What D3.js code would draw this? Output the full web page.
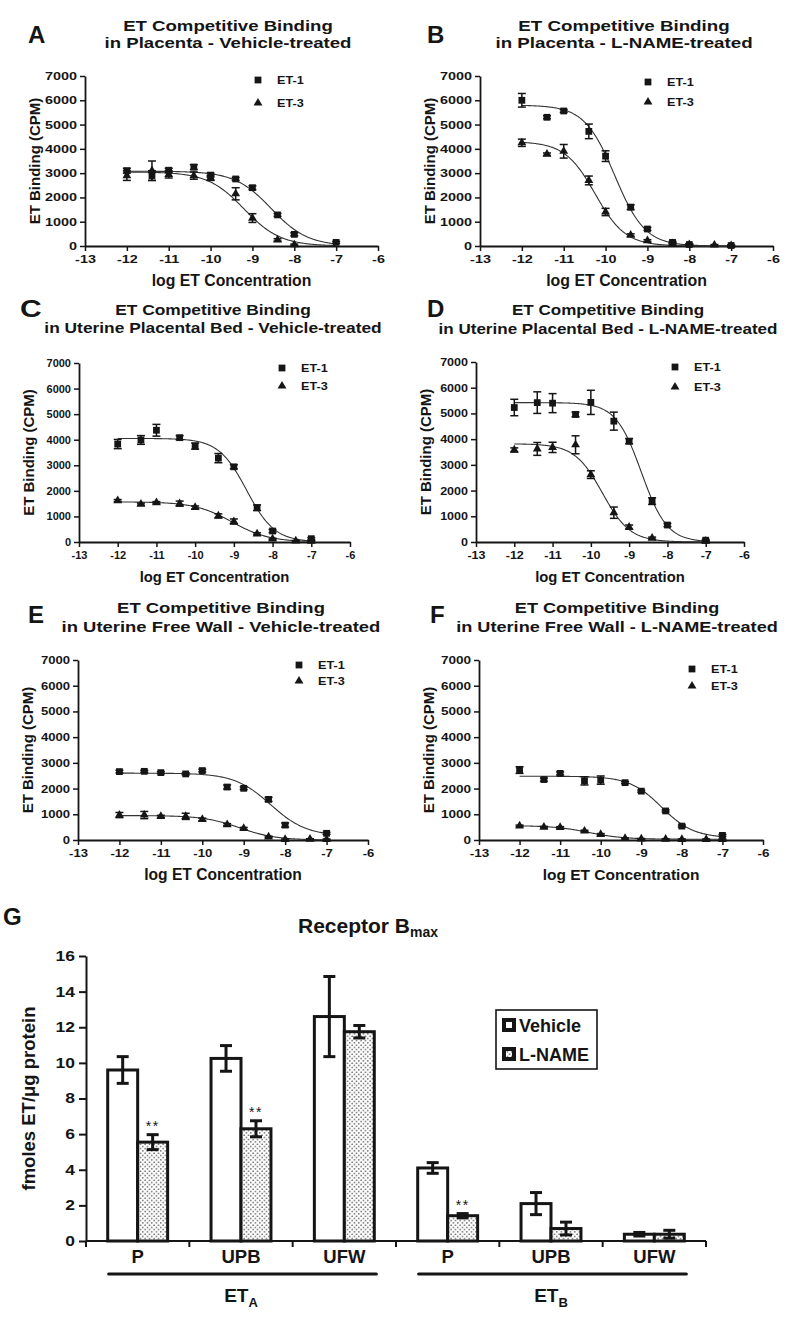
<!DOCTYPE html>
<html><head><meta charset="utf-8">
<script src="https://cdn.jsdelivr.net/npm/d3@7"></script>
<style>
body{margin:0;background:#fff;}
svg text{font-family:"Liberation Sans",Arial,Helvetica,sans-serif;font-weight:bold;fill:#151515;}
</style></head><body>
<svg id="c" width="800" height="1323"></svg>
<script>
// ---------- DATA ----------
const logConc = [-12, -11.4, -11, -10.4, -10, -9.4, -9, -8.4, -8, -7.4, -7];
const xTicks = [-13, -12, -11, -10, -9, -8, -7, -6];
const yTicks = [0, 1000, 2000, 3000, 4000, 5000, 6000, 7000];
const seriesNames = ["ET-1", "ET-3"];

// Panel A: Placenta, vehicle
const A_et1 = [3100, 2900, 3120, 3250, 2920, 2760, 2400, 1280, 480, null, 150];
const A_et1Err = [100, 200, 80, 100, 80, 60, 80, 60, 60, null, 40];
const A_et3 = [2900, 3100, 2950, 2900, 2800, 2150, 1150, 250, 50, null, null];
const A_et3Err = [200, 400, 150, 150, 100, 250, 180, 50, 30, null, null];
const A_fit1 = [3080, 0, -8.55, 1.0];   // top, bottom, logIC50, hill
const A_fit3 = [3050, 0, -9.2, 1.0];

// Panel B: Placenta, L-NAME
const B_et1 = [6000, 5300, 5560, 4720, 3700, 1600, 700, 150, 60, null, 20];
const B_et1Err = [280, 60, 60, 300, 220, 100, 60, 40, 30, null, 20];
const B_et3 = [4250, 3780, 3900, 2700, 1400, 450, 220, 100, 60, 40, 20];
const B_et3Err = [150, 50, 280, 180, 150, 50, 40, 30, 20, 20, 20];
const B_fit1 = [5800, 0, -9.78, 1.2];
const B_fit3 = [4300, 0, -10.25, 1.2];

// Panel C: Uterine placental bed, vehicle
const C_et1 = [3830, 3990, 4370, 4080, 3750, 3280, 2940, 1340, 430, null, 130];
const C_et1Err = [180, 170, 230, 80, 120, 180, 80, 110, 60, null, 40];
const C_et3 = [1620, 1480, 1540, 1500, 1350, 1020, 800, 320, 120, 40, 30];
const C_et3Err = [40, 40, 40, 100, 60, 80, 100, 40, 30, 20, 20];
const C_fit1 = [4050, 0, -8.67, 1.2];
const C_fit3 = [1570, 0, -9.05, 0.9];

// Panel D: Uterine placental bed, L-NAME
const D_et1 = [5230, 5420, 5400, 4960, 5430, 4700, 3920, 1590, 660, null, 70];
const D_et1Err = [320, 420, 370, 90, 470, 350, 100, 130, 60, null, 30];
const D_et3 = [3580, 3620, 3680, 3780, 2620, 1140, 580, 150, null, null, 30];
const D_et3Err = [80, 250, 200, 350, 150, 220, 80, 40, null, null, 20];
const D_fit1 = [5420, 0, -8.68, 1.3];
const D_fit3 = [3820, 0, -9.7, 1.2];

// Panel E: Uterine free wall, vehicle
const E_et1 = [2660, 2670, 2620, 2570, 2700, 2060, 2010, 1580, 580, null, 260];
const E_et1Err = [50, 40, 40, 40, 50, 80, 50, 80, 80, null, 40];
const E_et3 = [970, 970, 920, 920, 800, 600, 450, 120, 20, 30, 20];
const E_et3Err = [100, 140, 40, 120, 50, 40, 40, 30, 20, 20, 20];
const E_fit1 = [2600, 150, -8.35, 1.0];
const E_fit3 = [950, 0, -9.1, 1.0];

// Panel F: Uterine free wall, L-NAME
const F_et1 = [2720, 2350, 2590, 2300, 2330, 2230, 1900, 1130, 540, null, 180];
const F_et1Err = [130, 60, 60, 160, 160, 40, 40, 40, 40, null, 40];
const F_et3 = [550, 500, 490, 350, 220, 60, 40, 30, 20, 20, 20];
const F_et3Err = [30, 30, 30, 30, 30, 20, 20, 20, 20, 20, 20];
const F_fit1 = [2480, 80, -8.5, 1.1];
const F_fit3 = [560, 30, -10.3, 1.0];

// Panel G: Receptor Bmax
const gCategories = ["P", "UPB", "UFW", "P", "UPB", "UFW"];
const gReceptor = ["ETA", "ETA", "ETA", "ETB", "ETB", "ETB"];
const gTreatments = ["Vehicle", "L-NAME"];
const gVehicle = [9.6, 10.25, 12.6, 4.1, 2.1, 0.38];
const gVehicleErr = [0.75, 0.72, 2.25, 0.3, 0.62, 0.1];
const gLname = [5.55, 6.3, 11.75, 1.42, 0.7, 0.38];
const gLnameErr = [0.42, 0.45, 0.35, 0.12, 0.36, 0.22];
const gSignif = ["**", "**", "", "**", "", ""];
const gYTicks = [0, 2, 4, 6, 8, 10, 12, 14, 16];

// ---------- LAYOUT ----------
const panels = [
  {letter:"A", l1:"ET Competitive Binding", l2:"in Placenta - Vehicle-treated",
   s1:A_et1, e1:A_et1Err, s3:A_et3, e3:A_et3Err, f1:A_fit1, f3:A_fit3,
   box:[85,378,76,246], let:[28,43,1], tx:228, ty:[31,48], tsc:1.2, tick:1.31, xt:15.8, lg:[258,80,103]},
  {letter:"B", l1:"ET Competitive Binding", l2:"in Placenta - L-NAME-treated",
   s1:B_et1, e1:B_et1Err, s3:B_et3, e3:B_et3Err, f1:B_fit1, f3:B_fit3,
   box:[480,773,76,246], let:[427,43,1], tx:624, ty:[31,48], tsc:1.21, tick:1.31, xt:15.9, lg:[648,82,102]},
  {letter:"C", l1:"ET Competitive Binding", l2:"in Uterine Placental Bed - Vehicle-treated",
   s1:C_et1, e1:C_et1Err, s3:C_et3, e3:C_et3Err, f1:C_fit1, f3:C_fit3,
   box:[79,350,363,542], let:[20,317,1.25], tx:213, ty:[315,333], tsc:1.12, tick:1.0, xt:14.8, lg:[282,368,386]},
  {letter:"D", l1:"ET Competitive Binding", l2:"in Uterine Placental Bed - L-NAME-treated",
   s1:D_et1, e1:D_et1Err, s3:D_et3, e3:D_et3Err, f1:D_fit1, f3:D_fit3,
   box:[476,744,362,542], let:[427,317,1], tx:608, ty:[315,334], tsc:1.1, tick:1.14, xt:14.8, lg:[675,367,387]},
  {letter:"E", l1:"ET Competitive Binding", l2:"in Uterine Free Wall - Vehicle-treated",
   s1:E_et1, e1:E_et1Err, s3:E_et3, e3:E_et3Err, f1:E_fit1, f3:E_fit3,
   box:[78,368,660,840], let:[28,623,1], tx:221, ty:[613,632], tsc:1.19, tick:1.19, xt:15.6, lg:[299,665,681]},
  {letter:"F", l1:"ET Competitive Binding", l2:"in Uterine Free Wall - L-NAME-treated",
   s1:F_et1, e1:F_et1Err, s3:F_et3, e3:F_et3Err, f1:F_fit1, f3:F_fit3,
   box:[479,763,660,840], let:[430,623,1], tx:617, ty:[613,632], tsc:1.17, tick:1.23, xt:15.5, lg:[692,669,686]}
];

const svg = d3.select("#c");
const INK = "#151515";

const defs = svg.append("defs");
const pat = defs.append("pattern").attr("id","dots").attr("patternUnits","userSpaceOnUse")
  .attr("width",4.5).attr("height",4.5);
pat.append("rect").attr("width",4.5).attr("height",4.5).attr("fill","#fff");
pat.append("circle").attr("cx",1.1).attr("cy",1.1).attr("r",0.75).attr("fill","#3a3a3a");
pat.append("circle").attr("cx",3.35).attr("cy",3.35).attr("r",0.75).attr("fill","#3a3a3a");

function txt(parent, x, y, s, size, anchor, sx) {
  return parent.append("text")
    .attr("transform", `translate(${x},${y}) scale(${sx||1},1)`)
    .attr("text-anchor", anchor || "start")
    .style("font-size", size + "px")
    .text(s);
}

function sigmoid(p) {
  const [top, bottom, ic, h] = p;
  return x => bottom + (top - bottom) / (1 + Math.pow(10, (x - ic) * h));
}

panels.forEach(p => {
  const [L, R, T, B] = p.box;
  const g = svg.append("g");
  const x = d3.scaleLinear().domain([-13, -6]).range([L, R]);
  const y = d3.scaleLinear().domain([0, 7000]).range([B, T]);

  // titles
  txt(g, p.let[0], p.let[1], p.letter, 24, "start", p.let[2]);
  txt(g, p.tx, p.ty[0], p.l1, 15.5, "middle", p.tsc);
  txt(g, p.tx, p.ty[1], p.l2, 15.5, "middle", p.tsc);

  // axes
  const ay = g.append("g").attr("transform", `translate(${L},0)`)
    .call(d3.axisLeft(y).tickValues(yTicks).tickSize(5).tickSizeOuter(0).tickPadding(1.5).tickFormat(d3.format("d")));
  const ax = g.append("g").attr("transform", `translate(0,${B})`)
    .call(d3.axisBottom(x).tickValues(xTicks).tickSize(5).tickSizeOuter(0).tickPadding(4.5).tickFormat(d3.format("d")));
  [ay, ax].forEach(a => {
    a.select(".domain").attr("stroke", INK).attr("stroke-width", 1.8);
    a.selectAll(".tick line").attr("stroke", INK).attr("stroke-width", 1.5);
    a.selectAll(".tick text").attr("fill", INK).style("font-size", "11px")
      .style("font-family", '"Liberation Sans",Arial,sans-serif').style("font-weight", "bold")
      .attr("transform", `scale(${p.tick},1)`);
  });
  ax.selectAll(".tick text").text(d => d3.format("d")(d).replace("\u2212", "-"));
  ay.selectAll(".tick text").attr("x", -8 / p.tick);

  txt(g, (L + R) / 2, B + 40, "log ET Concentration", p.xt, "middle", 1);
  g.append("text").attr("transform", `translate(${L - 45},${(T + B) / 2}) rotate(-90)`)
    .attr("text-anchor", "middle").style("font-size", "15px").text("ET Binding (CPM)");

  // curves
  const xs = d3.range(-12, -6.999, 0.025);
  const line = d3.line().x(d => x(d[0])).y(d => y(d[1]));
  [p.f1, p.f3].forEach(fp => {
    const f = sigmoid(fp);
    g.append("path").attr("d", line(xs.map(v => [v, f(v)])))
      .attr("fill", "none").attr("stroke", "#333").attr("stroke-width", 1.1);
  });

  // points + error bars
  const series = [
    {vals: p.s1, errs: p.e1, sym: d3.symbolSquare, size: 46},
    {vals: p.s3, errs: p.e3, sym: d3.symbolTriangle, size: 34}
  ];
  series.forEach(s => {
    logConc.forEach((c, i) => {
      const v = s.vals[i];
      if (v == null) return;
      const e = s.errs[i] || 0;
      const cx = x(c);
      if (e > 0) {
        const y0 = y(Math.max(0, v - e)), y1 = y(v + e);
        g.append("line").attr("x1", cx).attr("x2", cx).attr("y1", y0).attr("y2", y1)
          .attr("stroke", INK).attr("stroke-width", 1.5);
        [y0, y1].forEach(yy => g.append("line").attr("x1", cx - 4).attr("x2", cx + 4)
          .attr("y1", yy).attr("y2", yy).attr("stroke", INK).attr("stroke-width", 1.5));
      }
      g.append("path").attr("d", d3.symbol(s.sym, s.size)())
        .attr("transform", `translate(${cx},${y(v)})`).attr("fill", INK);
    });
  });

  // legend
  const syms = [d3.symbolSquare, d3.symbolTriangle];
  seriesNames.forEach((n, i) => {
    const ly = p.lg[1 + i];
    g.append("path").attr("d", d3.symbol(syms[i], i ? 34 : 46)())
      .attr("transform", `translate(${p.lg[0]},${ly})`).attr("fill", INK);
    txt(g, p.lg[0] + 19, ly + 4, n, 11, "start", 1.15);
  });
});

// ---------- PANEL G ----------
(function () {
  const g = svg.append("g");
  const L = 86, R = 706, T = 956, B = 1241;
  const y = d3.scaleLinear().domain([0, 16]).range([B, T]);
  const idx = d3.range(gCategories.length);
  const x = d3.scaleBand().domain(idx).range([L, R]).paddingInner(0.42).paddingOuter(0.21);
  const xs = d3.scaleBand().domain(gTreatments).range([0, x.bandwidth()]);

  txt(g, 3, 925, "G", 24, "start", 1);
  const tt = g.append("text").attr("x", 368).attr("y", 933).attr("text-anchor", "middle").style("font-size", "21px");
  tt.append("tspan").text("Receptor B");
  tt.append("tspan").attr("dy", 4).style("font-size", "14px").text("max");

  // y axis
  const ay = g.append("g").attr("transform", `translate(${L},0)`)
    .call(d3.axisLeft(y).tickValues(gYTicks).tickSize(7).tickSizeOuter(0).tickPadding(4).tickFormat(d3.format("d")));
  ay.select(".domain").attr("stroke", INK).attr("stroke-width", 2);
  ay.selectAll(".tick line").attr("stroke", INK).attr("stroke-width", 2);
  ay.selectAll(".tick text").attr("fill", INK).style("font-size", "14px")
    .style("font-family", '"Liberation Sans",Arial,sans-serif').style("font-weight", "bold")
    .attr("transform", "scale(1.25,1)").attr("x", -11 / 1.25);
  g.append("text").attr("transform", `translate(${L - 51},${(T + B) / 2}) rotate(-90)`)
    .attr("text-anchor", "middle").style("font-size", "18.5px").text("fmoles ET/\u03bcg protein");

  // x axis line with boundary ticks
  g.append("line").attr("x1", L).attr("x2", R).attr("y1", B).attr("y2", B).attr("stroke", INK).attr("stroke-width", 2);
  const bounds = idx.map(i => x(i) - x.step() * x.paddingInner() / 2);
  bounds[0] = L; bounds.push(R);
  bounds.forEach(bx => g.append("line").attr("x1", bx).attr("x2", bx).attr("y1", B).attr("y2", B + 6)
    .attr("stroke", INK).attr("stroke-width", 2));

  // bars
  idx.forEach(i => {
    const vals = [gVehicle[i], gLname[i]];
    const errs = [gVehicleErr[i], gLnameErr[i]];
    gTreatments.forEach((t, j) => {
      const bx = x(i) + xs(t), bw = xs.bandwidth();
      g.append("rect").attr("x", bx).attr("y", y(vals[j])).attr("width", bw).attr("height", B - y(vals[j]))
        .attr("fill", j ? "url(#dots)" : "#fff").attr("stroke", INK).attr("stroke-width", 3);
    });
    gTreatments.forEach((t, j) => {
      const cx = x(i) + xs(t) + xs.bandwidth() / 2;
      const y0 = y(vals[j] - errs[j]), y1 = y(vals[j] + errs[j]);
      g.append("line").attr("x1", cx).attr("x2", cx).attr("y1", y0).attr("y2", y1).attr("stroke", INK).attr("stroke-width", 3);
      [y0, y1].forEach(yy => g.append("line").attr("x1", cx - 6).attr("x2", cx + 6).attr("y1", yy).attr("y2", yy)
        .attr("stroke", INK).attr("stroke-width", 3));
      if (j === 1 && gSignif[i]) {
        g.append("text").attr("x", cx).attr("y", y1 - 4).attr("text-anchor", "middle")
          .style("font-size", "14px").style("font-weight", "normal").style("letter-spacing", "1.5px")
          .attr("fill", "#444").text(gSignif[i]);
      }
    });
    g.append("text").attr("x", x(i) + x.bandwidth() / 2).attr("y", 1263).attr("text-anchor", "middle")
      .style("font-size", "18.5px").text(gCategories[i]);
  });

  // receptor group underline + labels
  ["ETA", "ETB"].forEach(rc => {
    const members = idx.filter(i => gReceptor[i] === rc);
    const x0 = x(members[0]), x1 = x(members[members.length - 1]) + x.bandwidth();
    g.append("line").attr("x1", x0 + 1).attr("x2", x1 + 2).attr("y1", 1274).attr("y2", 1274)
      .attr("stroke", INK).attr("stroke-width", 3.2).attr("stroke-linecap", "round");
    const t = g.append("text").attr("x", (x0 + x1) / 2).attr("y", 1302).attr("text-anchor", "middle").style("font-size", "19px");
    t.append("tspan").text("ET");
    t.append("tspan").attr("dy", 5).style("font-size", "13px").text(rc.slice(2));
  });

  // legend
  g.append("rect").attr("x", 496).attr("y", 1010).attr("width", 101).attr("height", 59)
    .attr("fill", "#fff").attr("stroke", INK).attr("stroke-width", 1.6);
  gTreatments.forEach((t, j) => {
    const yy = 1019 + j * 29;
    g.append("rect").attr("x", 504).attr("y", yy + 1).attr("width", 10).attr("height", 10)
      .attr("fill", j ? "url(#dots)" : "#fff").attr("stroke", INK).attr("stroke-width", 4);
    g.append("text").attr("x", 519).attr("y", yy + 13).style("font-size", "18px").text(t);
  });
})();
</script>
</body></html>
